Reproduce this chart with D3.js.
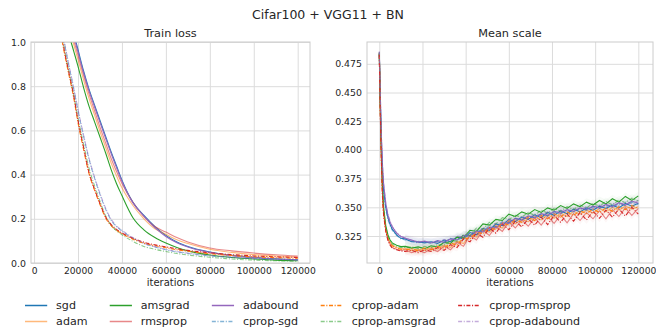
<!DOCTYPE html>
<html>
<head>
<meta charset="utf-8">
<script src="https://cdn.jsdelivr.net/npm/d3@7"></script>
<style>
  body { margin: 0; background: #fff; }
  svg { font-family: "DejaVu Sans", sans-serif; }
  .grid line { stroke: #dcdcdc; stroke-width: 1; }
  .grid path { display: none; }
  .tick text { fill: #262626; }
</style>
</head>
<body>
<svg id="chart" width="656" height="332"></svg>
<script>
// ---- data ----
const optimizers = ['sgd', 'adam', 'amsgrad', 'rmsprop', 'adabound',
  'cprop-sgd', 'cprop-adam', 'cprop-amsgrad', 'cprop-rmsprop', 'cprop-adabound'];

const lossIters = [10000, 12000, 14000, 16000, 18000, 20000, 22500, 25000, 27500, 30000,
  32500, 35000, 37500, 40000, 45000, 50000, 55000, 60000, 65000, 70000,
  80000, 90000, 100000, 110000, 120000];

const lossSgd = [1.45, 1.33, 1.22, 1.12, 1.04, 0.965, 0.87, 0.787, 0.715, 0.645, 0.575, 0.505, 0.44, 0.375, 0.275, 0.215, 0.165, 0.125, 0.095, 0.075, 0.05, 0.035, 0.026, 0.019, 0.015];
const lossAdam = [1.40, 1.28, 1.17, 1.07, 0.99, 0.92, 0.83, 0.745, 0.67, 0.595, 0.525, 0.455, 0.395, 0.34, 0.26, 0.2, 0.155, 0.13, 0.105, 0.088, 0.062, 0.048, 0.038, 0.032, 0.027];
const lossAmsgrad = [1.32, 1.21, 1.11, 1.03, 0.96, 0.89, 0.795, 0.71, 0.64, 0.57, 0.50, 0.425, 0.36, 0.305, 0.205, 0.15, 0.115, 0.09, 0.07, 0.055, 0.036, 0.025, 0.018, 0.013, 0.01];
const lossRmsprop = [1.42, 1.30, 1.19, 1.09, 1.01, 0.94, 0.85, 0.765, 0.69, 0.615, 0.545, 0.475, 0.415, 0.36, 0.275, 0.21, 0.165, 0.14, 0.115, 0.095, 0.068, 0.055, 0.045, 0.037, 0.031];
const lossAdabound = [1.44, 1.32, 1.21, 1.11, 1.03, 0.955, 0.862, 0.78, 0.708, 0.637, 0.567, 0.498, 0.433, 0.37, 0.272, 0.212, 0.16, 0.12, 0.092, 0.072, 0.048, 0.033, 0.024, 0.018, 0.014];
const lossCpropSgd = [1.24, 1.1, 0.985, 0.885, 0.79, 0.69, 0.575, 0.47, 0.385, 0.31, 0.245, 0.195, 0.165, 0.145, 0.112, 0.088, 0.072, 0.06, 0.05, 0.043, 0.032, 0.025, 0.02, 0.017, 0.014];
const lossCpropAdam = [1.19, 1.05, 0.94, 0.845, 0.75, 0.635, 0.515, 0.405, 0.33, 0.265, 0.205, 0.17, 0.148, 0.133, 0.108, 0.09, 0.078, 0.069, 0.06, 0.053, 0.042, 0.034, 0.028, 0.024, 0.021];
const lossCpropAmsgrad = [1.21, 1.07, 0.96, 0.86, 0.765, 0.655, 0.54, 0.43, 0.35, 0.28, 0.215, 0.172, 0.146, 0.128, 0.098, 0.075, 0.062, 0.052, 0.043, 0.036, 0.026, 0.018, 0.013, 0.01, 0.008];
const lossCpropRmsprop = [1.2, 1.06, 0.95, 0.855, 0.76, 0.645, 0.525, 0.41, 0.335, 0.27, 0.21, 0.175, 0.152, 0.136, 0.112, 0.094, 0.082, 0.073, 0.064, 0.057, 0.046, 0.038, 0.032, 0.028, 0.025];
const lossCpropAdabound = [1.25, 1.11, 0.99, 0.89, 0.795, 0.695, 0.58, 0.475, 0.39, 0.315, 0.25, 0.2, 0.168, 0.148, 0.115, 0.09, 0.074, 0.062, 0.052, 0.045, 0.034, 0.027, 0.021, 0.018, 0.015];

const scaleIters = [0, 500, 1000, 1500, 2000, 3000, 4000, 5000, 6000, 8000, 10000,
  12000, 15000, 18000, 21000, 24000, 27000, 30000, 33000, 36000, 39000,
  42000, 45000, 48000, 51000, 54000, 57000, 60000, 63000, 66000, 69000,
  72000, 75000, 78000, 81000, 84000, 87000, 90000, 93000, 96000, 99000,
  102000, 105000, 108000, 111000, 114000, 117000, 120000];

const scaleSgd = [0.484, 0.44, 0.405, 0.38, 0.365, 0.35, 0.341, 0.335, 0.331, 0.326, 0.323,
  0.3225, 0.3200, 0.3200, 0.3190, 0.3200, 0.3185, 0.3215, 0.3200, 0.3240, 0.3225,
  0.3280, 0.3260, 0.3315, 0.3300, 0.3355, 0.3340, 0.3395, 0.3375, 0.3415, 0.3395,
  0.3435, 0.3410, 0.3455, 0.3430, 0.3470, 0.3445, 0.3485, 0.3460, 0.3495, 0.3475,
  0.3510, 0.3490, 0.3520, 0.3495, 0.3535, 0.3510, 0.3535];
const scaleAdam = [0.484, 0.432, 0.392, 0.362, 0.347, 0.331, 0.3235, 0.3195, 0.317, 0.315, 0.314,
  0.3140, 0.3125, 0.3135, 0.3125, 0.3150, 0.3135, 0.3170, 0.3150, 0.3205, 0.3185,
  0.3260, 0.3240, 0.3305, 0.3285, 0.3340, 0.3320, 0.3385, 0.3355, 0.3400, 0.3375,
  0.3420, 0.3390, 0.3435, 0.3405, 0.3450, 0.3420, 0.3465, 0.3440, 0.3475, 0.3450,
  0.3490, 0.3460, 0.3500, 0.3475, 0.3510, 0.3485, 0.3505];
const scaleAmsgrad = [0.485, 0.435, 0.395, 0.366, 0.35, 0.334, 0.326, 0.3215, 0.319, 0.317, 0.3158,
  0.3160, 0.3145, 0.3155, 0.3140, 0.3165, 0.3155, 0.3195, 0.3185, 0.3240, 0.3235,
  0.3300, 0.3290, 0.3355, 0.3345, 0.3395, 0.3385, 0.3440, 0.3420, 0.3460, 0.3440,
  0.3480, 0.3455, 0.3495, 0.3475, 0.3515, 0.3490, 0.3530, 0.3505, 0.3545, 0.3520,
  0.3560, 0.3530, 0.3575, 0.3545, 0.3595, 0.3560, 0.3600];
const scaleRmsprop = [0.484, 0.43, 0.39, 0.36, 0.345, 0.330, 0.322, 0.318, 0.315, 0.3135, 0.3125,
  0.3130, 0.3105, 0.3125, 0.3105, 0.3140, 0.3115, 0.3160, 0.3130, 0.3195, 0.3160,
  0.3255, 0.3215, 0.3300, 0.3255, 0.3335, 0.3290, 0.3375, 0.3320, 0.3390, 0.3335,
  0.3410, 0.3345, 0.3420, 0.3360, 0.3435, 0.3365, 0.3445, 0.3385, 0.3455, 0.3400,
  0.3470, 0.3400, 0.3480, 0.3420, 0.3495, 0.3430, 0.3490];
const scaleAdabound = [0.485, 0.445, 0.41, 0.385, 0.37, 0.353, 0.343, 0.337, 0.333, 0.3275, 0.3245,
  0.3230, 0.3215, 0.3195, 0.3205, 0.3190, 0.3210, 0.3195, 0.3225, 0.3215, 0.3255,
  0.3250, 0.3290, 0.3285, 0.3325, 0.3320, 0.3365, 0.3360, 0.3405, 0.3390, 0.3425,
  0.3410, 0.3445, 0.3430, 0.3465, 0.3450, 0.3480, 0.3465, 0.3495, 0.3480, 0.3510,
  0.3495, 0.3525, 0.3505, 0.3540, 0.3520, 0.3555, 0.3535];
const scaleCpropSgd = [0.483, 0.44, 0.40, 0.378, 0.362, 0.348, 0.339, 0.334, 0.330, 0.3255, 0.3225,
  0.3215, 0.3205, 0.3190, 0.3200, 0.3185, 0.3205, 0.3195, 0.3230, 0.3215, 0.3260,
  0.3245, 0.3300, 0.3290, 0.3340, 0.3330, 0.3375, 0.3365, 0.3400, 0.3390, 0.3420,
  0.3410, 0.3440, 0.3425, 0.3460, 0.3445, 0.3475, 0.3460, 0.3490, 0.3475, 0.3505,
  0.3490, 0.3520, 0.3500, 0.3530, 0.3515, 0.3545, 0.3525];
const scaleCpropAdam = [0.483, 0.43, 0.39, 0.36, 0.345, 0.3305, 0.323, 0.319, 0.3165, 0.3145, 0.3135,
  0.3130, 0.3140, 0.3120, 0.3145, 0.3130, 0.3160, 0.3145, 0.3190, 0.3170, 0.3235,
  0.3225, 0.3285, 0.3270, 0.3325, 0.3305, 0.3365, 0.3345, 0.3395, 0.3370, 0.3415,
  0.3385, 0.3430, 0.3400, 0.3445, 0.3415, 0.3460, 0.3430, 0.3470, 0.3445, 0.3485,
  0.3455, 0.3495, 0.3465, 0.3505, 0.3480, 0.3515, 0.3490];
const scaleCpropAmsgrad = [0.484, 0.433, 0.393, 0.364, 0.348, 0.3325, 0.325, 0.3205, 0.318, 0.316, 0.315,
  0.3150, 0.3155, 0.3140, 0.3160, 0.3150, 0.3175, 0.3170, 0.3210, 0.3205, 0.3260,
  0.3255, 0.3320, 0.3310, 0.3370, 0.3355, 0.3410, 0.3395, 0.3430, 0.3415, 0.3455,
  0.3430, 0.3475, 0.3450, 0.3490, 0.3465, 0.3505, 0.3480, 0.3520, 0.3495, 0.3535,
  0.3510, 0.3550, 0.3520, 0.3565, 0.3540, 0.3580, 0.3555];
const scaleCpropRmsprop = [0.483, 0.428, 0.388, 0.358, 0.343, 0.329, 0.321, 0.317, 0.3145, 0.313, 0.312,
  0.3115, 0.3125, 0.3105, 0.3130, 0.3115, 0.3150, 0.3125, 0.3175, 0.3150, 0.3225,
  0.3200, 0.3275, 0.3240, 0.3320, 0.3275, 0.3355, 0.3305, 0.3380, 0.3330, 0.3400,
  0.3345, 0.3415, 0.3350, 0.3430, 0.3370, 0.3440, 0.3380, 0.3455, 0.3390, 0.3465,
  0.3405, 0.3475, 0.3415, 0.3485, 0.3425, 0.3500, 0.3440];
const scaleCpropAdabound = [0.486, 0.446, 0.412, 0.387, 0.371, 0.354, 0.344, 0.338, 0.3335, 0.328, 0.325,
  0.3235, 0.3210, 0.3205, 0.3195, 0.3200, 0.3195, 0.3220, 0.3210, 0.3250, 0.3240,
  0.3285, 0.3275, 0.3320, 0.3310, 0.3360, 0.3345, 0.3395, 0.3385, 0.3420, 0.3405,
  0.3440, 0.3425, 0.3460, 0.3445, 0.3475, 0.3460, 0.3490, 0.3475, 0.3505, 0.3490,
  0.3520, 0.3500, 0.3535, 0.3515, 0.3550, 0.3530, 0.3560];

const lossTicks = [0, 0.2, 0.4, 0.6, 0.8, 1.0];
const scaleTicks = [0.325, 0.35, 0.375, 0.4, 0.425, 0.45, 0.475];
const iterTicks = [0, 20000, 40000, 60000, 80000, 100000, 120000];

// ---- styling ----
const palette = ['#1f77b4', '#ff7f0e', '#2ca02c', '#d62728', '#9467bd'];
const lossData = [lossSgd, lossAdam, lossAmsgrad, lossRmsprop, lossAdabound,
  lossCpropSgd, lossCpropAdam, lossCpropAmsgrad, lossCpropRmsprop, lossCpropAdabound];
const scaleData = [scaleSgd, scaleAdam, scaleAmsgrad, scaleRmsprop, scaleAdabound,
  scaleCpropSgd, scaleCpropAdam, scaleCpropAmsgrad, scaleCpropRmsprop, scaleCpropAdabound];

const series = optimizers.map((name, i) => ({
  name,
  color: palette[i % 5],
  dashed: i >= 5,
  faded: i % 2 === 1,
  loss: lossIters.map((x, j) => [x, lossData[i][j]]),
  scale: scaleIters.map((x, j) => [x, scaleData[i][j]]),
}));

const svg = d3.select('#chart');
const dashPattern = '4,1.6,1.1,1.6';

svg.append('text')
  .attr('x', 328).attr('y', 18.5)
  .attr('text-anchor', 'middle')
  .attr('font-size', 12.5).attr('fill', '#262626')
  .text('Cifar100 + VGG11 + BN');

function drawPanel(opts) {
  const { left, right, top, bottom, xDomain, yDomain, yTicks, yFormat, title, key, id, band } = opts;
  const x = d3.scaleLinear().domain(xDomain).range([left, right]);
  const y = d3.scaleLinear().domain(yDomain).range([bottom, top]);
  const g = svg.append('g');

  g.append('defs').append('clipPath').attr('id', id)
    .append('rect')
    .attr('x', left).attr('y', top)
    .attr('width', right - left).attr('height', bottom - top);

  // gridlines
  g.append('g').attr('class', 'grid')
    .attr('transform', `translate(0,${bottom})`)
    .call(d3.axisBottom(x).tickValues(iterTicks).tickSize(-(bottom - top)).tickFormat(''));
  g.append('g').attr('class', 'grid')
    .attr('transform', `translate(${left},0)`)
    .call(d3.axisLeft(y).tickValues(yTicks).tickSize(-(right - left)).tickFormat(''));

  // tick labels
  const xAxis = g.append('g')
    .attr('transform', `translate(0,${bottom})`)
    .call(d3.axisBottom(x).tickValues(iterTicks).tickSize(0).tickPadding(4).tickFormat(d3.format('d')));
  xAxis.select('.domain').remove();
  xAxis.selectAll('text').attr('font-size', 9.2).attr('font-family', 'DejaVu Sans');

  const yAxis = g.append('g')
    .attr('transform', `translate(${left},0)`)
    .call(d3.axisLeft(y).tickValues(yTicks).tickSize(0).tickPadding(5).tickFormat(yFormat));
  yAxis.select('.domain').remove();
  yAxis.selectAll('text').attr('font-size', 9.4).attr('font-family', 'DejaVu Sans');

  const plot = g.append('g').attr('clip-path', `url(#${id})`);

  if (band) {
    const area = d3.area().x(d => x(d[0])).y0(d => y(d[1] - band)).y1(d => y(d[1] + band));
    plot.selectAll('path.band')
      .data(series)
      .join('path')
      .attr('class', 'band')
      .attr('d', d => area(d[key].slice(11)))
      .attr('fill', d => d.color)
      .attr('fill-opacity', 0.04);
  }

  const line = d3.line().x(d => x(d[0])).y(d => y(d[1]))
    .curve(key === 'loss' ? d3.curveMonotoneX : d3.curveLinear);

  plot.selectAll('path.series')
    .data(series)
    .join('path')
    .attr('class', 'series')
    .attr('d', d => line(d[key]))
    .attr('fill', 'none')
    .attr('stroke', d => d.color)
    .attr('stroke-opacity', d => d.faded ? 0.55 : 1)
    .attr('stroke-width', 1.1)
    .attr('stroke-dasharray', d => d.dashed ? dashPattern : null);

  // frame
  g.append('rect')
    .attr('x', left).attr('y', top)
    .attr('width', right - left).attr('height', bottom - top)
    .attr('fill', 'none').attr('stroke', '#cccccc').attr('stroke-width', 1);

  g.append('text')
    .attr('x', (left + right) / 2).attr('y', top - 5)
    .attr('text-anchor', 'middle').attr('font-size', 11.3).attr('fill', '#262626')
    .text(title);

  g.append('text')
    .attr('x', (left + right) / 2).attr('y', 285.5)
    .attr('text-anchor', 'middle').attr('font-size', 10).attr('fill', '#262626')
    .text('iterations');
}

drawPanel({
  left: 31, right: 310, top: 42, bottom: 263,
  xDomain: [-1400, 125600], yDomain: [0, 1],
  yTicks: lossTicks, yFormat: d3.format('.1f'),
  title: 'Train loss', key: 'loss', id: 'clip-loss', band: 0,
});

drawPanel({
  left: 367, right: 653, top: 42, bottom: 263,
  xDomain: [-5700, 126800], yDomain: [0.3015, 0.494],
  yTicks: scaleTicks, yFormat: d3.format('.3f'),
  title: 'Mean scale', key: 'scale', id: 'clip-scale', band: 0.0035,
});

// ---- legend: 5 columns x 2 rows, filled column by column, matplotlib spacing ----
const fontSize = 11.1;
const handleLen = 2 * fontSize, handlePad = 0.8 * fontSize, colGap = 2 * fontSize;
const legendLeft = 25;
const rowY = [305.5, 321.5];
const legend = svg.append('g');
const measure = legend.append('text').attr('font-size', fontSize);
const colWidths = [];
for (let c = 0; c < 5; c++) {
  const w = d3.max([series[c * 2], series[c * 2 + 1]], s => {
    measure.text(s.name);
    return measure.node().getComputedTextLength();
  });
  colWidths.push(w);
}
measure.remove();
let cx = legendLeft;
colWidths.forEach((w, c) => {
  [0, 1].forEach(r => {
    const s = series[c * 2 + r];
    legend.append('line')
      .attr('x1', cx).attr('x2', cx + handleLen)
      .attr('y1', rowY[r]).attr('y2', rowY[r])
      .attr('stroke', s.color)
      .attr('stroke-opacity', s.faded ? 0.55 : 1)
      .attr('stroke-width', 1.5)
      .attr('stroke-dasharray', s.dashed ? dashPattern : null);
    legend.append('text')
      .attr('x', cx + handleLen + handlePad).attr('y', rowY[r] + 3.9)
      .attr('font-size', fontSize).attr('fill', '#262626')
      .text(s.name);
  });
  cx += handleLen + handlePad + w + colGap;
});
</script>
</body>
</html>
